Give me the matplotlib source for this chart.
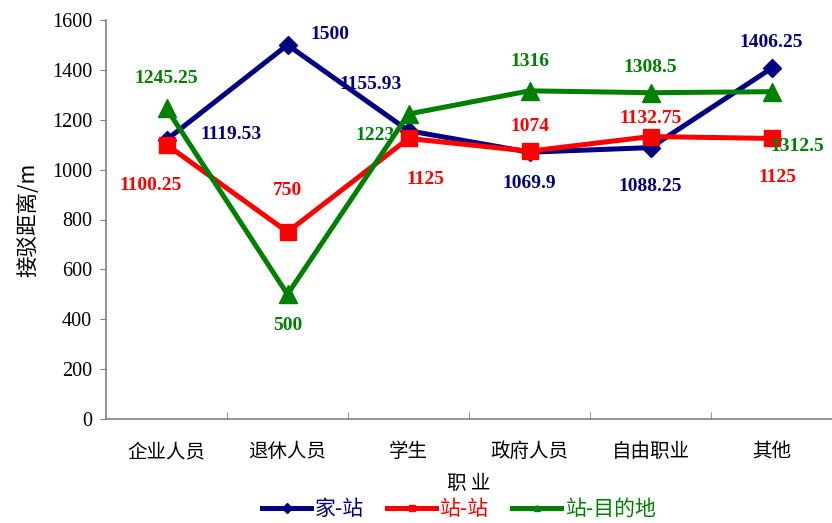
import numpy as np
import matplotlib

matplotlib.use('Agg')
import matplotlib.pyplot as plt
from matplotlib.ticker import FixedLocator

plt.rcParams['font.family'] = ['Noto Sans CJK SC', 'DejaVu Sans']

JOBS = ['企业人员', '退休人员', '学生', '政府人员', '自由职业', '其他']
HOME_STATION = [1119.53, 1500, 1155.93, 1069.9, 1088.25, 1406.25]
STATION_STATION = [1100.25, 750, 1125, 1074, 1132.75, 1125]
STATION_DEST = [1245.25, 500, 1223, 1316, 1308.5, 1312.5]

# label offsets in pixels (dx right, dy up) for each point
OFF_HOME = [(64, 5), (42, 10), (-38, 46), (0, -31), (0, -39), (0, 26)]
OFF_SS = [(-16, -41), (0, 41), (17, -41), (0, 25), (0, 18), (6, -39)]
OFF_SD = [(0, 30), (0, -31), (-33, -21), (0, 29), (0, 25), (26, -55)]

SERIES = [
    ('家-站', HOME_STATION, '#000080', 'D', 9, OFF_HOME),
    ('站-站', STATION_STATION, '#ff0000', 's', 12, OFF_SS),
    ('站-目的地', STATION_DEST, '#008000', '^', 13, OFF_SD),
]

fig = plt.figure(figsize=(8.32, 5.23), dpi=100)
ax = fig.add_axes([106 / 832, 1 - 419 / 523, 726 / 832, 399 / 523])
x = np.arange(len(JOBS))

for name, vals, color, marker, ms, offs in SERIES:
    ax.plot(x, vals, color=color, lw=3.6, marker=marker, ms=ms,
            markeredgecolor=color, label=name, zorder=3)
    for xi, v, (dx, dy) in zip(x, vals, offs):
        ax.annotate(f'{v:g}', (xi, v), xytext=(dx, dy), textcoords='offset pixels',
                    ha='center', va='center', color=color, fontsize=14,
                    fontweight='bold', family='Liberation Serif')

ax.set_xlim(-0.5, len(JOBS) - 0.5)
ax.set_ylim(0, 1600)
ax.set_yticks(range(0, 1601, 200))
ax.set_yticklabels([str(v) for v in range(0, 1601, 200)],
                   family='Liberation Serif', fontsize=14.5)
ax.tick_params(axis='y', direction='out', length=4, color='#808080', pad=6)
ax.set_xticks(x)
ax.set_xticklabels(JOBS, fontsize=14)
ax.xaxis.set_minor_locator(FixedLocator(np.arange(0.5, len(JOBS) - 1, 1)))
ax.tick_params(axis='x', which='major', length=0, pad=16)
ax.tick_params(axis='x', which='minor', direction='in', length=5, color='#808080')

for side in ('top', 'right'):
    ax.spines[side].set_visible(False)
for side in ('left', 'bottom'):
    ax.spines[side].set_color('#808080')
    ax.spines[side].set_linewidth(1.2)

ax.set_xlabel('职 业', fontsize=14, labelpad=8)
ax.set_ylabel('接驳距离/m', fontsize=15.5, labelpad=9)

leg = fig.legend(handles=[plt.Line2D([], [], color=c, lw=3.6, marker=m, ms=5)
                          for _, _, c, m, _, _ in SERIES],
                 labels=[s[0] for s in SERIES], loc='lower center',
                 bbox_to_anchor=(0.552, -0.03), ncol=3, frameon=False,
                 fontsize=15, handlelength=2.35, columnspacing=1.1, handletextpad=0.2)
for txt, (_, _, c, _, _, _) in zip(leg.get_texts(), SERIES):
    txt.set_color(c)

fig.savefig('out.png', dpi=100)
